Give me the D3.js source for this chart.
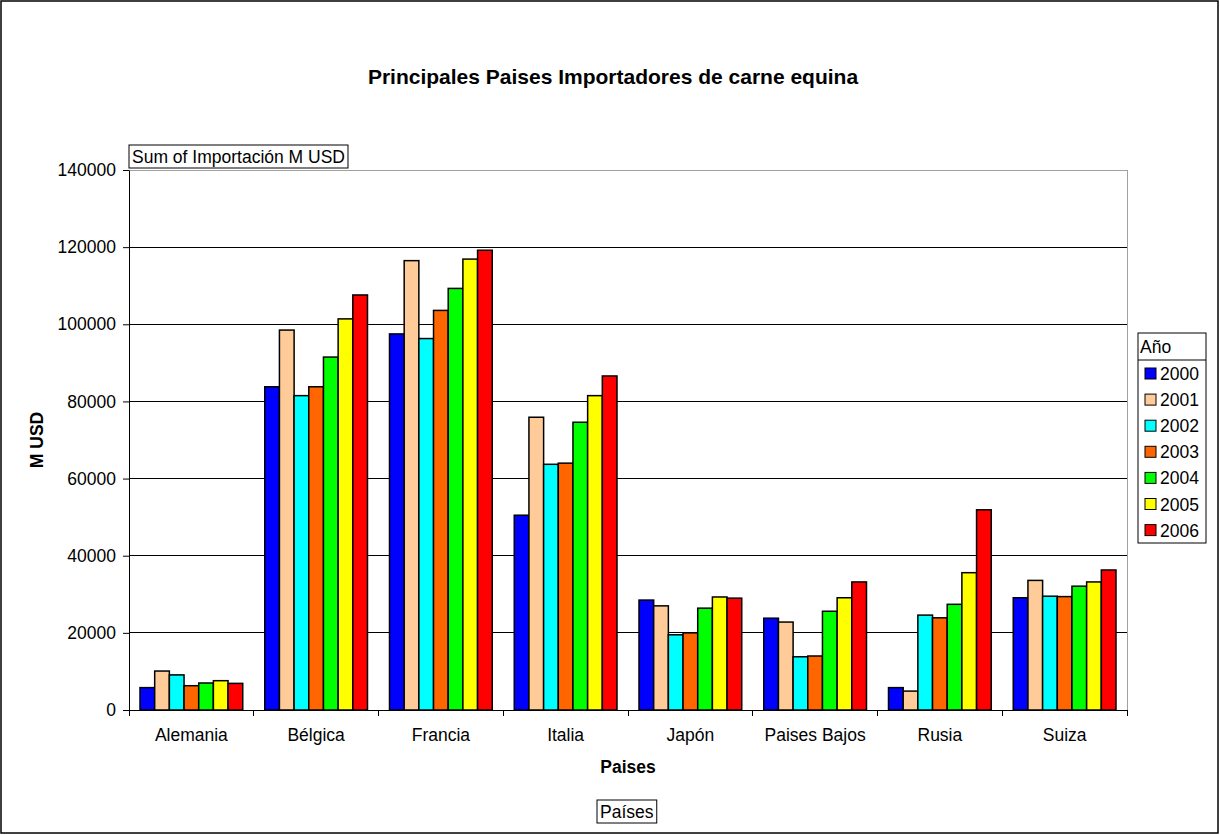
<!DOCTYPE html>
<html>
<head>
<meta charset="utf-8">
<script src="https://cdn.jsdelivr.net/npm/d3@7"></script>
<style>
  body { margin: 0; background: #fff; }
  text { font-family: "Liberation Sans", Arial, sans-serif; fill: #000; }
</style>
</head>
<body>
<script>
// datos
var paises = ["Alemania", "Bélgica", "Francia", "Italia", "Japón", "Paises Bajos", "Rusia", "Suiza"];
var anios = ["2000", "2001", "2002", "2003", "2004", "2005", "2006"];
var colores = ["#0000ff", "#ffcc99", "#00ffff", "#ff6600", "#00ff00", "#ffff00", "#ff0000"];
var v2000 = [5800, 83800, 97500, 50500, 28500, 23800, 5800, 29100];
var v2001 = [10100, 98500, 116500, 75900, 27000, 22800, 4900, 33600];
var v2002 = [9100, 81500, 96300, 63700, 19500, 13800, 24600, 29500];
var v2003 = [6300, 83800, 103600, 64000, 20000, 14000, 23900, 29400];
var v2004 = [7000, 91500, 109300, 74600, 26400, 25600, 27400, 32100];
var v2005 = [7600, 101400, 116900, 81500, 29300, 29100, 35600, 33200];
var v2006 = [6900, 107600, 119200, 86600, 29000, 33200, 51900, 36300];
var yTicks = [0, 20000, 40000, 60000, 80000, 100000, 120000, 140000];

var series = [v2000, v2001, v2002, v2003, v2004, v2005, v2006];
var data = paises.map(function (p, i) {
  return { pais: p, vals: anios.map(function (a, j) { return { anio: a, v: series[j][i], c: colores[j] }; }) };
});

var W = 1220, H = 835;
var margin = { top: 170, right: 93, bottom: 125, left: 129 },
  width = W - margin.left - margin.right,
  height = H - margin.top - margin.bottom;
var fs = "17.5px";

var svg = d3.select("body").append("svg").attr("width", W).attr("height", H);

// marco exterior
svg.append("rect").attr("x", 1).attr("y", 1).attr("width", W - 3).attr("height", H - 3)
  .attr("fill", "#fff").attr("stroke", "#000").attr("stroke-width", 1.5);

svg.append("text").attr("x", 613).attr("y", 84).attr("text-anchor", "middle")
  .style("font-size", "21px").style("font-weight", "bold")
  .text("Principales Paises Importadores de carne equina");

var g = svg.append("g").attr("transform", "translate(" + margin.left + "," + margin.top + ")");

var x0 = d3.scaleBand().domain(paises).range([0, width]);
var gap = x0.bandwidth() * 1.5 / 8.5;
var x1 = d3.scaleBand().domain(anios).range([gap / 2, x0.bandwidth() - gap / 2]);
var y = d3.scaleLinear().domain([0, 140000]).range([height, 0]);

// rejilla
g.selectAll(".grid").data(yTicks.slice(1)).enter().append("line")
  .attr("x1", 0).attr("x2", width)
  .attr("y1", function (d) { return y(d); }).attr("y2", function (d) { return y(d); })
  .attr("stroke", function (d) { return d === 140000 ? "#a0a0a0" : "#000"; })
  .attr("stroke-width", 1).attr("shape-rendering", "crispEdges");

// borde derecho
g.append("line").attr("x1", width).attr("x2", width).attr("y1", 0).attr("y2", height)
  .attr("stroke", "#a0a0a0").attr("shape-rendering", "crispEdges");

// barras
var grupos = g.selectAll(".grupo").data(data).enter().append("g")
  .attr("transform", function (d) { return "translate(" + x0(d.pais) + ",0)"; });
grupos.selectAll("rect").data(function (d) { return d.vals; }).enter().append("rect")
  .attr("x", function (d) { return x1(d.anio); })
  .attr("y", function (d) { return y(d.v); })
  .attr("width", x1.bandwidth())
  .attr("height", function (d) { return height - y(d.v); })
  .attr("fill", function (d) { return d.c; })
  .attr("stroke", "#000").attr("stroke-width", 1.5);

// ejes
var yAxis = g.append("g").call(d3.axisLeft(y).tickValues(yTicks).tickSize(6).tickSizeOuter(0).tickFormat(d3.format("d")));
yAxis.select(".domain").attr("stroke", "#000");
yAxis.selectAll("text").style("font-size", fs).attr("x", -13).attr("font-family", null);

var xAxis = g.append("g").attr("transform", "translate(0," + height + ")")
  .call(d3.axisBottom(x0).tickSize(0));
xAxis.selectAll("text").style("font-size", fs).attr("y", 19).attr("font-family", null);
var bounds = paises.map(function (p) { return x0(p); }).concat([width]);
xAxis.selectAll(".sep").data(bounds).enter().append("line")
  .attr("x1", function (d) { return d; }).attr("x2", function (d) { return d; })
  .attr("y1", 0).attr("y2", 6).attr("stroke", "#000").attr("shape-rendering", "crispEdges");

// títulos de ejes
svg.append("text").attr("transform", "translate(43," + (margin.top + height / 2) + ") rotate(-90)")
  .attr("text-anchor", "middle").style("font-size", fs).style("font-weight", "bold").text("M USD");
svg.append("text").attr("x", margin.left + width / 2).attr("y", 773).attr("text-anchor", "middle")
  .style("font-size", fs).style("font-weight", "bold").text("Paises");

// botones de campo
function boton(x, yy, txt) {
  var t = svg.append("text").attr("x", x + 3).attr("y", yy + 18).style("font-size", fs).text(txt);
  var bb = t.node().getBBox();
  svg.insert("rect", function () { return t.node(); })
    .attr("x", x).attr("y", yy).attr("width", bb.width + 6).attr("height", 23)
    .attr("fill", "#fff").attr("stroke", "#000");
}
boton(129, 145, "Sum of Importación M USD");
boton(597, 800, "Países");

// leyenda
var lx = 1138, ly = 333;
var leg = svg.append("g");
leg.append("rect").attr("x", lx).attr("y", ly).attr("width", 68).attr("height", 210)
  .attr("fill", "#fff").attr("stroke", "#000");
leg.append("line").attr("x1", lx).attr("x2", lx + 68).attr("y1", ly + 27).attr("y2", ly + 27).attr("stroke", "#000");
leg.append("text").attr("x", lx + 2).attr("y", ly + 20).style("font-size", fs).text("Año");
var items = leg.selectAll(".item").data(anios).enter().append("g")
  .attr("transform", function (d, i) { return "translate(" + (lx + 7) + "," + (ly + 40 + i * 26.1) + ")"; });
items.append("rect").attr("x", 0).attr("y", -5).attr("width", 11).attr("height", 11)
  .attr("fill", function (d, i) { return colores[i]; }).attr("stroke", "#000");
items.append("text").attr("x", 15).attr("y", 7).style("font-size", fs).text(function (d) { return d; });
</script>
</body>
</html>
